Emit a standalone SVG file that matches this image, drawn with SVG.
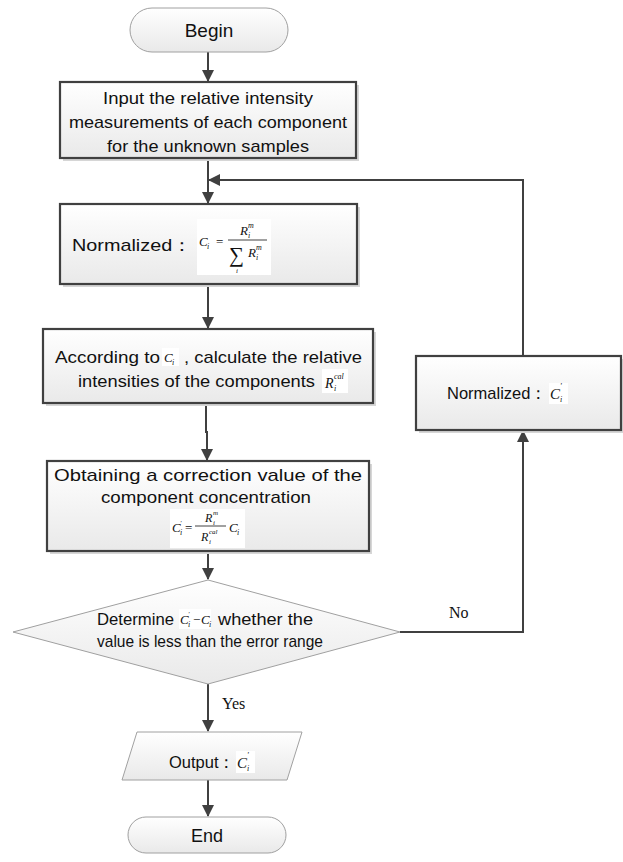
<svg xmlns="http://www.w3.org/2000/svg" width="623" height="862" viewBox="0 0 623 862">
<style>
.box{fill:url(#g);stroke:#404040;stroke-width:2.2}
.shd{fill:#d6d6d6}
.thin{fill:url(#g);stroke:#a0a0a0;stroke-width:1}
.t{font-family:"Liberation Sans",Arial,sans-serif;font-size:17px;fill:#111}
.m{font-family:"Liberation Serif","Times New Roman",serif;font-style:italic;fill:#111}
.mn{font-family:"Liberation Serif","Times New Roman",serif;fill:#111}
.lbl{font-family:"Liberation Serif","Times New Roman",serif;font-size:16px;fill:#111}
.c{fill:none;stroke:#404040;stroke-width:2}
</style>
<defs>
<linearGradient id="g" x1="0" y1="0" x2="0" y2="1"><stop offset="0" stop-color="#ffffff"/><stop offset="1" stop-color="#e9e9e9"/></linearGradient>
<marker id="a" markerUnits="userSpaceOnUse" markerWidth="12" markerHeight="12" viewBox="0 0 12 12" refX="11" refY="6" orient="auto"><path d="M0,0 L12,6 L0,12 z" fill="#404040"/></marker>
</defs>

<g id="connectors">
<line class="c" x1="208" y1="52" x2="208" y2="81" marker-end="url(#a)"/>
<line class="c" x1="208" y1="158" x2="208" y2="203" marker-end="url(#a)"/>
<path class="c" d="M523,356 V180 H209" marker-end="url(#a)"/>
<line class="c" x1="208" y1="284" x2="208" y2="328" marker-end="url(#a)"/>
<path class="c" d="M206,403 V432 H207 V460" marker-end="url(#a)"/>
<line class="c" x1="208" y1="551" x2="208" y2="579" marker-end="url(#a)"/>
<path class="c" d="M400,632 H523 V431" marker-end="url(#a)"/>
<line class="c" x1="208" y1="684" x2="208" y2="731" marker-end="url(#a)"/>
<line class="c" x1="208" y1="780" x2="208" y2="816" marker-end="url(#a)"/>
<text class="lbl" x="449" y="618">No</text>
<text class="lbl" x="222" y="709">Yes</text>
</g>

<g id="begin">
<rect class="thin" x="130" y="8" width="158" height="44" rx="22"/>
<text class="t" x="209" y="37" text-anchor="middle" style="font-size:19px">Begin</text>
</g>

<g id="input">
<rect class="shd" x="63" y="85" width="296" height="76"/>
<rect class="box" x="60" y="82" width="296" height="76"/>
<text class="t" x="208" y="104" text-anchor="middle" textLength="210" lengthAdjust="spacingAndGlyphs">Input the relative intensity</text>
<text class="t" x="208" y="128" text-anchor="middle" textLength="278" lengthAdjust="spacingAndGlyphs">measurements of each component</text>
<text class="t" x="208" y="152" text-anchor="middle" textLength="202" lengthAdjust="spacingAndGlyphs">for the unknown samples</text>
</g>

<g id="normalize1">
<rect class="shd" x="63" y="207" width="297" height="80"/>
<rect class="box" x="60" y="204" width="297" height="80"/>
<text class="t" x="72" y="251" textLength="120" lengthAdjust="spacingAndGlyphs">Normalized：</text>
<rect x="197" y="219" width="74" height="56" fill="#fff"/>
<text class="m" x="199" y="246" font-size="13">C</text>
<text class="m" x="207" y="249" font-size="8">i</text>
<text class="mn" x="216" y="246" font-size="13">=</text>
<line x1="228" y1="240" x2="267" y2="240" stroke="#111" stroke-width="0.8"/>
<text class="m" x="240" y="235" font-size="13">R</text>
<text class="m" x="248" y="228" font-size="8">m</text>
<text class="m" x="248" y="238" font-size="8">i</text>
<text class="mn" x="229" y="262" font-size="21">∑</text>
<text class="m" x="248" y="257" font-size="13">R</text>
<text class="m" x="256" y="250" font-size="8">m</text>
<text class="m" x="256" y="260" font-size="8">i</text>
<text class="m" x="236" y="273" font-size="7">i</text>
</g>

<g id="calc">
<rect class="shd" x="46" y="332" width="330" height="74"/>
<rect class="box" x="43" y="329" width="330" height="74"/>
<text class="t" x="55" y="363" textLength="105" lengthAdjust="spacingAndGlyphs">According to</text>
<rect x="162" y="348" width="17" height="18" fill="#fff"/>
<text class="m" x="164" y="362" font-size="13">C</text>
<text class="m" x="172" y="365" font-size="8">i</text>
<text class="t" x="184" y="363" textLength="178" lengthAdjust="spacingAndGlyphs">, calculate the relative</text>
<text class="t" x="78" y="387" textLength="237" lengthAdjust="spacingAndGlyphs">intensities of the components</text>
<rect x="322" y="369" width="26" height="24" fill="#fff"/>
<text class="m" x="325" y="388" font-size="14">R</text>
<text class="m" x="334" y="379" font-size="8">cal</text>
<text class="m" x="334" y="391" font-size="8">i</text>
</g>

<g id="correct">
<rect class="shd" x="50" y="464" width="322" height="90"/>
<rect class="box" x="47" y="461" width="322" height="90"/>
<text class="t" x="208" y="481" text-anchor="middle" textLength="308" lengthAdjust="spacingAndGlyphs">Obtaining a correction value of the</text>
<text class="t" x="206" y="503" text-anchor="middle" textLength="210" lengthAdjust="spacingAndGlyphs">component concentration</text>
<rect x="170" y="509" width="75" height="39" fill="#fff"/>
<text class="m" x="172" y="532" font-size="13">C</text>
<text class="m" x="180" y="525" font-size="7">'</text>
<text class="m" x="180" y="535" font-size="8">i</text>
<text class="mn" x="185" y="532" font-size="13">=</text>
<line x1="195" y1="526" x2="226" y2="526" stroke="#111" stroke-width="0.8"/>
<text class="m" x="205" y="522" font-size="12">R</text>
<text class="m" x="213" y="515" font-size="7">m</text>
<text class="m" x="213" y="525" font-size="7">i</text>
<text class="m" x="201" y="541" font-size="12">R</text>
<text class="m" x="209" y="534" font-size="7">cal</text>
<text class="m" x="209" y="544" font-size="7">i</text>
<text class="m" x="229" y="532" font-size="13">C</text>
<text class="m" x="237" y="535" font-size="8">i</text>
</g>

<g id="decision">
<polygon class="thin" points="208,580 400,632 208,684 13,632"/>
<text class="t" x="97" y="625" textLength="77" lengthAdjust="spacingAndGlyphs">Determine</text>
<rect x="179" y="609" width="32" height="20" fill="#fff"/>
<text class="m" x="180" y="624" font-size="13">C</text>
<text class="m" x="188" y="616" font-size="7">'</text>
<text class="m" x="188" y="627" font-size="8">i</text>
<text class="mn" x="193" y="624" font-size="13">−</text>
<text class="m" x="201" y="624" font-size="13">C</text>
<text class="m" x="209" y="627" font-size="8">i</text>
<text class="t" x="218" y="625" textLength="95" lengthAdjust="spacingAndGlyphs">whether the</text>
<text class="t" x="97" y="647" textLength="226" lengthAdjust="spacingAndGlyphs">value is less than the error range</text>
</g>

<g id="normalize2">
<rect class="shd" x="419" y="359" width="204" height="74"/>
<rect class="box" x="416" y="356" width="205" height="74"/>
<text class="t" x="447" y="399" textLength="100" lengthAdjust="spacingAndGlyphs">Normalized：</text>
<rect x="549" y="383" width="19" height="21" fill="#fff"/>
<text class="m" x="550" y="399" font-size="15">C</text>
<text class="m" x="560" y="389" font-size="8">'</text>
<text class="m" x="560" y="402" font-size="8">i</text>
</g>

<g id="output">
<polygon class="thin" points="137,732 302,732 287,780 122,780"/>
<text class="t" x="169" y="768" textLength="66" lengthAdjust="spacingAndGlyphs">Output：</text>
<rect x="236" y="751" width="19" height="22" fill="#fff"/>
<text class="m" x="237" y="768" font-size="15">C</text>
<text class="m" x="247" y="758" font-size="8">'</text>
<text class="m" x="247" y="771" font-size="8">i</text>
</g>

<g id="end">
<rect class="thin" x="128" y="817" width="158" height="36" rx="18"/>
<text class="t" x="207" y="842" text-anchor="middle" style="font-size:18px">End</text>
</g>
</svg>
